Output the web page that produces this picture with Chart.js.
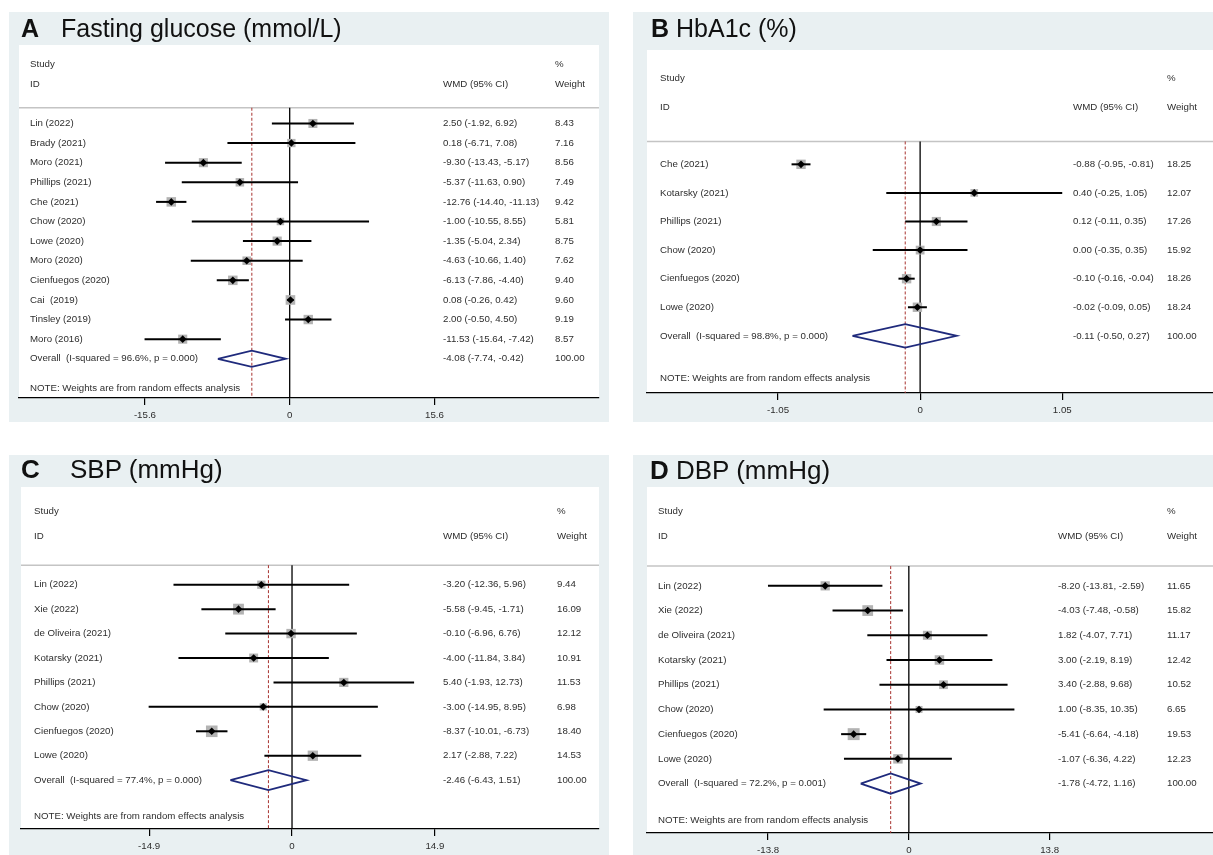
<!DOCTYPE html>
<html>
<head>
<meta charset="utf-8">
<script src="https://cdn.jsdelivr.net/npm/chart.js@4.4.1/dist/chart.umd.min.js"></script>
<style>
  html, body { margin: 0; padding: 0; background: #fff; }
  body { width: 1213px; height: 855px; position: relative; overflow: hidden; font-family: 'Liberation Sans', Arial, sans-serif; }
  .panel { position: absolute; background: #e9f0f2; }
  .panel canvas { position: absolute; left: 0; top: 0; }
  .ttl { position: absolute; font-size: 25px; line-height: 25px; color: #111; white-space: nowrap; }
  .ttl.big { font-weight: bold; }
</style>
</head>
<body>
<div class="panel" style="left:9px;top:12px;width:600px;height:410px"><canvas id="cA" width="600" height="410"></canvas></div>
<div class="panel" style="left:633px;top:12px;width:580px;height:410px"><canvas id="cB" width="580" height="410"></canvas></div>
<div class="panel" style="left:9px;top:455px;width:600px;height:400px"><canvas id="cC" width="600" height="400"></canvas></div>
<div class="panel" style="left:633px;top:455px;width:580px;height:400px"><canvas id="cD" width="580" height="400"></canvas></div>

<div class="ttl big" style="left:21px;top:16px">A</div>
<div class="ttl" style="left:61px;top:16px">Fasting glucose (mmol/L)</div>
<div class="ttl big" style="left:651px;top:16px">B</div>
<div class="ttl" style="left:676px;top:16px">HbA1c (%)</div>
<div class="ttl big" style="left:21px;top:457px;font-size:26px">C</div>
<div class="ttl" style="left:70px;top:457px;font-size:26px">SBP (mmHg)</div>
<div class="ttl big" style="left:650px;top:458px;font-size:26px">D</div>
<div class="ttl" style="left:676px;top:458px;font-size:26px">DBP (mmHg)</div>

<script>
// A: fasting glucose
const studiesA = ['Lin (2022)', 'Brady (2021)', 'Moro (2021)', 'Phillips (2021)', 'Che (2021)', 'Chow (2020)',
  'Lowe (2020)', 'Moro (2020)', 'Cienfuegos (2020)', 'Cai  (2019)', 'Tinsley (2019)', 'Moro (2016)'];
const wmdA = [2.50, 0.18, -9.30, -5.37, -12.76, -1.00, -1.35, -4.63, -6.13, 0.08, 2.00, -11.53];
const lowA = [-1.92, -6.71, -13.43, -11.63, -14.40, -10.55, -5.04, -10.66, -7.86, -0.26, -0.50, -15.64];
const highA = [6.92, 7.08, -5.17, 0.90, -11.13, 8.55, 2.34, 1.40, -4.40, 0.42, 4.50, -7.42];
const weightA = [8.43, 7.16, 8.56, 7.49, 9.42, 5.81, 8.75, 7.62, 9.40, 9.60, 9.19, 8.57];
const overallA = [-4.08, -7.74, -0.42];
const hetA = ['96.6%', '0.000'];
const ticksA = [-15.6, 0, 15.6];

// B: HbA1c
const studiesB = ['Che (2021)', 'Kotarsky (2021)', 'Phillips (2021)', 'Chow (2020)', 'Cienfuegos (2020)', 'Lowe (2020)'];
const wmdB = [-0.88, 0.40, 0.12, 0.00, -0.10, -0.02];
const lowB = [-0.95, -0.25, -0.11, -0.35, -0.16, -0.09];
const highB = [-0.81, 1.05, 0.35, 0.35, -0.04, 0.05];
const weightB = [18.25, 12.07, 17.26, 15.92, 18.26, 18.24];
const overallB = [-0.11, -0.50, 0.27];
const hetB = ['98.8%', '0.000'];
const ticksB = [-1.05, 0, 1.05];

// C: SBP
const studiesC = ['Lin (2022)', 'Xie (2022)', 'de Oliveira (2021)', 'Kotarsky (2021)', 'Phillips (2021)',
  'Chow (2020)', 'Cienfuegos (2020)', 'Lowe (2020)'];
const wmdC = [-3.20, -5.58, -0.10, -4.00, 5.40, -3.00, -8.37, 2.17];
const lowC = [-12.36, -9.45, -6.96, -11.84, -1.93, -14.95, -10.01, -2.88];
const highC = [5.96, -1.71, 6.76, 3.84, 12.73, 8.95, -6.73, 7.22];
const weightC = [9.44, 16.09, 12.12, 10.91, 11.53, 6.98, 18.40, 14.53];
const overallC = [-2.46, -6.43, 1.51];
const hetC = ['77.4%', '0.000'];
const ticksC = [-14.9, 0, 14.9];

// D: DBP
const studiesD = ['Lin (2022)', 'Xie (2022)', 'de Oliveira (2021)', 'Kotarsky (2021)', 'Phillips (2021)',
  'Chow (2020)', 'Cienfuegos (2020)', 'Lowe (2020)'];
const wmdD = [-8.20, -4.03, 1.82, 3.00, 3.40, 1.00, -5.41, -1.07];
const lowD = [-13.81, -7.48, -4.07, -2.19, -2.88, -8.35, -6.64, -6.36];
const highD = [-2.59, -0.58, 7.71, 8.19, 9.68, 10.35, -4.18, 4.22];
const weightD = [11.65, 15.82, 11.17, 12.42, 10.52, 6.65, 19.53, 12.23];
const overallD = [-1.78, -4.72, 1.16];
const hetD = ['72.2%', '0.001'];
const ticksD = [-13.8, 0, 13.8];

const FONT = '"Liberation Sans", Arial, sans-serif';
const TXT = '#2e2e2e';

function fmt(v) { return v.toFixed(2); }

function makeForest(id, d, L) {
  const n = d.studies.length;
  const rows = d.studies.map((_, i) => i);
  const [oe, ol, oh] = d.overall;
  const ds = [];

  // zero line and pooled-estimate line
  ds.push({ data: [{ x: 0, y: -0.8 }, { x: 0, y: n + 2 }], showLine: true, borderColor: '#000',
    borderWidth: 1.3, pointRadius: 0, order: 6 });
  ds.push({ data: [{ x: oe, y: -0.8 }, { x: oe, y: n + 2 }], showLine: true, borderColor: '#a8322f',
    borderWidth: 1, borderDash: [3, 2], pointRadius: 0, order: 5 });
  // weight boxes
  ds.push({ data: rows.map(i => ({ x: d.est[i], y: i })), pointStyle: 'rect',
    pointRadius: d.weight.map(w => L.box * Math.sqrt(w) / Math.SQRT2),
    pointBackgroundColor: '#b3b3b3', pointBorderWidth: 0, order: 4 });
  // confidence intervals
  rows.forEach(i => ds.push({ data: [{ x: d.low[i], y: i }, { x: d.high[i], y: i }], showLine: true,
    borderColor: '#000', borderWidth: 2, pointRadius: 0, order: 3 }));
  // point estimates
  ds.push({ data: rows.map(i => ({ x: d.est[i], y: i })), pointStyle: 'rectRot', pointRadius: 3.8,
    pointBackgroundColor: '#000', pointBorderWidth: 0, order: 2 });
  // pooled diamond
  ds.push({ data: [{ x: ol, y: n }, { x: oe, y: n - 0.41 }, { x: oh, y: n }, { x: oe, y: n + 0.41 }, { x: ol, y: n }],
    showLine: true, borderColor: '#1f2a7c', borderWidth: 1.8, borderJoinStyle: 'miter', pointRadius: 0, order: 1 });

  const textPlugin = {
    id: 'forestText' + id,
    beforeDraw(chart) {
      const a = chart.chartArea, ctx = chart.ctx;
      ctx.save();
      ctx.fillStyle = '#fff';
      ctx.fillRect(a.left, a.top, a.right - a.left, a.bottom - a.top);
      ctx.restore();
    },
    beforeDatasetsDraw(chart) {
      const a = chart.chartArea, ctx = chart.ctx, y = chart.scales.y.getPixelForValue(-0.8);
      ctx.save();
      ctx.strokeStyle = '#c4c4c4';
      ctx.lineWidth = 1.5;
      ctx.beginPath(); ctx.moveTo(a.left, y); ctx.lineTo(a.right, y); ctx.stroke();
      ctx.restore();
    },
    afterDatasetsDraw(chart) {
      const a = chart.chartArea, ctx = chart.ctx, ys = chart.scales.y;
      const [c1, c2, c3] = L.cols.map(c => a.left + c);
      const put = (t, x, r) => ctx.fillText(t, x, ys.getPixelForValue(r));
      ctx.save();
      ctx.font = '9.7px ' + FONT;
      ctx.fillStyle = TXT;
      ctx.textBaseline = 'middle';
      put('Study', c1, -3); put('ID', c1, -2);
      put('WMD (95% CI)', c2, -2);
      put('%', c3, -3); put('Weight', c3, -2);
      rows.forEach(i => {
        put(d.studies[i], c1, i);
        put(fmt(d.est[i]) + ' (' + fmt(d.low[i]) + ', ' + fmt(d.high[i]) + ')', c2, i);
        put(fmt(d.weight[i]), c3, i);
      });
      put('Overall  (I-squared = ' + d.het[0] + ', p = ' + d.het[1] + ')', c1, n);
      put(fmt(oe) + ' (' + fmt(ol) + ', ' + fmt(oh) + ')', c2, n);
      put('100.00', c3, n);
      put('NOTE: Weights are from random effects analysis', c1, n + 1.5);
      ctx.restore();
    }
  };

  new Chart(document.getElementById(id), {
    type: 'scatter',
    data: { datasets: ds },
    plugins: [textPlugin],
    options: {
      responsive: false,
      animation: false,
      events: [],
      layout: { autoPadding: false, padding: { left: L.pad[0], right: L.pad[1], top: L.pad[2], bottom: 0 } },
      plugins: { legend: { display: false }, tooltip: { enabled: false } },
      scales: {
        x: {
          type: 'linear', min: L.xMin, max: L.xMax,
          afterBuildTicks: s => { s.ticks = d.ticks.map(v => ({ value: v })); },
          afterFit: s => { s.height = L.axisH; s.paddingLeft = 0; s.paddingRight = 0; },
          grid: { drawOnChartArea: false, drawTicks: true, tickLength: 7, color: '#000', lineWidth: 1.2 },
          border: { display: true, color: '#000', width: 1.2 },
          ticks: { autoSkip: false, maxRotation: 0, padding: 5, color: TXT,
            font: { family: FONT, size: 9.7 }, callback: v => String(v) }
        },
        y: { type: 'linear', display: false, reverse: true, min: -4, max: n + 2 }
      }
    }
  });
}

makeForest('cA', { studies: studiesA, est: wmdA, low: lowA, high: highA, weight: weightA, overall: overallA, het: hetA, ticks: ticksA },
  { xMin: -29.17, xMax: 33.33, pad: [10, 10, 33], axisH: 24, cols: [11, 424, 536], box: 3.1 });
makeForest('cB', { studies: studiesB, est: wmdB, low: lowB, high: highB, weight: weightB, overall: overallB, het: hetB, ticks: ticksB },
  { xMin: -2.018, xMax: 2.164, pad: [14, 0, 38], axisH: 29, cols: [13, 426, 520], box: 2.2 });
makeForest('cC', { studies: studiesC, est: wmdC, low: lowC, high: highC, weight: weightC, overall: overallC, het: hetC, ticks: ticksC },
  { xMin: -28.26, xMax: 32.01, pad: [12, 10, 32], axisH: 26, cols: [13, 422, 536], box: 2.7 });
makeForest('cD', { studies: studiesD, est: wmdD, low: lowD, high: highD, weight: weightD, overall: overallD, het: hetD, ticks: ticksD },
  { xMin: -25.67, xMax: 29.82, pad: [14, 0, 32], axisH: 22, cols: [11, 411, 520], box: 2.7 });
</script>
</body>
</html>
